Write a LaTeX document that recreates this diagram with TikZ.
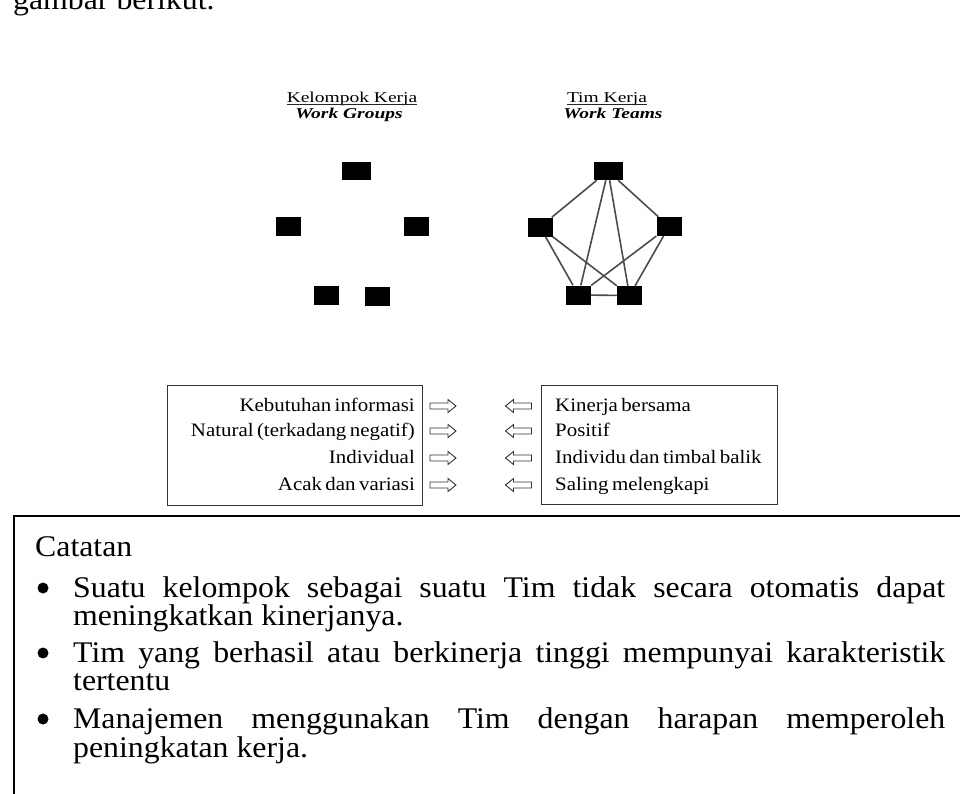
\documentclass[tikz,border=0pt]{standalone}
\usepackage{fontspec}
\usepackage{graphicx}
\setmainfont{Liberation Serif}
\newfontfamily\tabfont[FakeStretch=1.1]{Liberation Serif}
\newfontfamily\ttlfont[FakeStretch=1.3]{Liberation Serif}
\newfontfamily\bodyfont[FakeStretch=1.06]{Liberation Serif}
\newcommand\tightsp{\spaceskip=0.18em\relax}
\begin{document}
\begin{tikzpicture}[x=1pt,y=-1pt,
  blk/.style={fill=black, draw=none, inner sep=0pt, minimum width=25pt, minimum height=19pt},
  blktop/.style={blk, minimum width=29pt, minimum height=18pt},
  link/.style={draw=black!70, line width=1.6pt},
  tbox/.style={draw=black!80, line width=1.1pt, inner sep=0pt},
  body/.style={font=\bodyfont\fontsize{30}{34}\selectfont, inner sep=0pt, anchor=base west},
  ttl/.style={font=\ttlfont\fontsize{15}{18}\selectfont, inner sep=0pt, anchor=base},
  uline/.style={draw=black!85, line width=0.8pt},
  rowl/.style={font=\tabfont\fontsize{19}{22}\selectfont, inner sep=0pt, anchor=base east},
  rowr/.style={font=\tabfont\fontsize{19}{22}\selectfont, inner sep=0pt, anchor=base west},
  arrowline/.style={draw=black!80, line width=0.9pt, line join=miter},
  rarrowpic/.pic={\draw[arrowline] (-13,-3) -- (5,-3) -- (5,-6.5) -- (13,0) -- (5,6.5) -- (5,3) -- (-13,3) -- cycle;},
  larrowpic/.pic={\draw[arrowline] (13,-3) -- (-5,-3) -- (-5,-6.5) -- (-13,0) -- (-5,6.5) -- (-5,3) -- (13,3) -- cycle;}
]
\useasboundingbox (0,0) rectangle (960,793);

% cut-off line of text above
\node[body] (prev) at (13,9) {gambar berikut.};

% titles
\node[ttl] (tkg) at (352,102) {Kelompok Kerja};
\draw[uline] ([yshift=-2.5pt]tkg.base west) -- ([yshift=-2.5pt]tkg.base east);
\node[ttl] (twg) at (349,118) {\bfseries\itshape Work Groups};
\node[ttl] (ttk) at (607,102) {Tim Kerja};
\draw[uline] ([yshift=-2.5pt]ttk.base west) -- ([yshift=-2.5pt]ttk.base east);
\node[ttl] (twt) at (613,118) {\bfseries\itshape Work Teams};

% work groups (unconnected)
\node[blktop] (g1) at (356.5,171) {};
\node[blk] (g2) at (288,226.5) {};
\node[blk] (g3) at (416.5,226) {};
\node[blk] (g4) at (326.5,295) {};
\node[blk] (g5) at (377,296) {};

% work teams (fully connected)
\node[blktop] (t1) at (608,171) {};
\node[blk] (t2) at (540,227) {};
\node[blk] (t3) at (669,226.5) {};
\node[blk] (t4) at (578.5,295) {};
\node[blk] (t5) at (629.5,295.5) {};
\draw[link] (t1) -- (t2);
\draw[link] (t1) -- (t3);
\draw[link] (t1) -- (t4);
\draw[link] (t1) -- (t5);
\draw[link] (t2) -- (t4);
\draw[link] (t2) -- (t5);
\draw[link] (t3) -- (t4);
\draw[link] (t3) -- (t5);
\draw[link] (t4) -- (t5);

% comparison boxes
\node[tbox, minimum width=255pt, minimum height=120pt, anchor=north west] (lbox) at (167,385) {};
\node[tbox, minimum width=236pt, minimum height=119pt, anchor=north west] (rbox) at (541,385) {};

\node[rowl] (l1) at (415,411) {\tightsp Kebutuhan informasi};
\node[rowl] (l2) at (415,436) {\tightsp Natural (terkadang negatif)};
\node[rowl] (l3) at (415,463) {\tightsp Individual};
\node[rowl] (l4) at (415,490) {\tightsp Acak dan variasi};

\node[rowr] (r1) at (555,411) {\tightsp Kinerja bersama};
\node[rowr] (r2) at (555,436) {\tightsp Positif};
\node[rowr] (r3) at (555,463) {\tightsp Individu dan timbal balik};
\node[rowr] (r4) at (555,490) {\tightsp Saling melengkapi};

\pic at (443,406) {rarrowpic};
\pic at (443,431) {rarrowpic};
\pic at (443,458) {rarrowpic};
\pic at (443,485) {rarrowpic};
\pic at (518.5,406) {larrowpic};
\pic at (518.5,431) {larrowpic};
\pic at (518.5,458) {larrowpic};
\pic at (518.5,485) {larrowpic};

% Catatan box
\draw[line width=2pt] (962,516) -- (13.5,516) -- (13.5,800);
\node[body] (cat) at (35,556) {Catatan};
\fill (43,588) circle (5.5pt);
\fill (43,653) circle (5.5pt);
\fill (43,719) circle (5.5pt);
\node[body] (b1a) at (73,597) {\makebox[872pt][s]{Suatu kelompok sebagai suatu Tim tidak secara otomatis dapat}};
\node[body] (b1b) at (73,625) {meningkatkan kinerjanya.};
\node[body] (b2a) at (73,662) {\makebox[872pt][s]{Tim yang berhasil atau berkinerja tinggi mempunyai karakteristik}};
\node[body] (b2b) at (73,690) {tertentu};
\node[body] (b3a) at (73,728) {\makebox[872pt][s]{Manajemen menggunakan Tim dengan harapan memperoleh}};
\node[body] (b3b) at (73,757) {peningkatan kerja.};
\end{tikzpicture}
\end{document}
